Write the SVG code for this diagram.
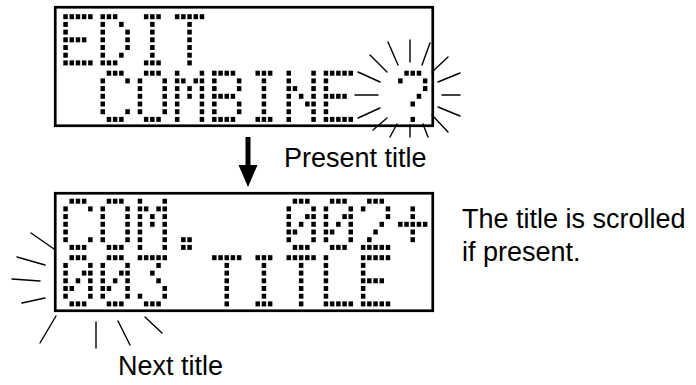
<svg xmlns="http://www.w3.org/2000/svg" xmlns:xlink="http://www.w3.org/1999/xlink" width="696" height="385" viewBox="0 0 696 385">
<style>
.bg{fill:#fff}
.lcd{fill:none;stroke:#000;stroke-width:2.7}
.g rect{fill:#000}
.ray{stroke:#000;stroke-width:1.4;stroke-linecap:round;fill:none}
.lbl{font-family:"Liberation Sans",Arial,sans-serif;font-size:27px;fill:#000}
</style>
<defs>
<g id="gE" class="g"><rect x="0" y="0" width="4.5" height="5"/><rect x="6.2" y="0" width="4.5" height="5"/><rect x="12.4" y="0" width="4.5" height="5"/><rect x="18.6" y="0" width="4.5" height="5"/><rect x="24.8" y="0" width="4.5" height="5"/><rect x="0" y="7.7" width="4.5" height="5"/><rect x="0" y="15.4" width="4.5" height="5"/><rect x="0" y="23.1" width="4.5" height="5"/><rect x="6.2" y="23.1" width="4.5" height="5"/><rect x="12.4" y="23.1" width="4.5" height="5"/><rect x="18.6" y="23.1" width="4.5" height="5"/><rect x="0" y="30.8" width="4.5" height="5"/><rect x="0" y="38.5" width="4.5" height="5"/><rect x="0" y="46.2" width="4.5" height="5"/><rect x="6.2" y="46.2" width="4.5" height="5"/><rect x="12.4" y="46.2" width="4.5" height="5"/><rect x="18.6" y="46.2" width="4.5" height="5"/><rect x="24.8" y="46.2" width="4.5" height="5"/></g>
<g id="gD" class="g"><rect x="0" y="0" width="4.5" height="5"/><rect x="6.2" y="0" width="4.5" height="5"/><rect x="12.4" y="0" width="4.5" height="5"/><rect x="0" y="7.7" width="4.5" height="5"/><rect x="18.6" y="7.7" width="4.5" height="5"/><rect x="0" y="15.4" width="4.5" height="5"/><rect x="24.8" y="15.4" width="4.5" height="5"/><rect x="0" y="23.1" width="4.5" height="5"/><rect x="24.8" y="23.1" width="4.5" height="5"/><rect x="0" y="30.8" width="4.5" height="5"/><rect x="24.8" y="30.8" width="4.5" height="5"/><rect x="0" y="38.5" width="4.5" height="5"/><rect x="18.6" y="38.5" width="4.5" height="5"/><rect x="0" y="46.2" width="4.5" height="5"/><rect x="6.2" y="46.2" width="4.5" height="5"/><rect x="12.4" y="46.2" width="4.5" height="5"/></g>
<g id="gI" class="g"><rect x="6.2" y="0" width="4.5" height="5"/><rect x="12.4" y="0" width="4.5" height="5"/><rect x="18.6" y="0" width="4.5" height="5"/><rect x="12.4" y="7.7" width="4.5" height="5"/><rect x="12.4" y="15.4" width="4.5" height="5"/><rect x="12.4" y="23.1" width="4.5" height="5"/><rect x="12.4" y="30.8" width="4.5" height="5"/><rect x="12.4" y="38.5" width="4.5" height="5"/><rect x="6.2" y="46.2" width="4.5" height="5"/><rect x="12.4" y="46.2" width="4.5" height="5"/><rect x="18.6" y="46.2" width="4.5" height="5"/></g>
<g id="gT" class="g"><rect x="0" y="0" width="4.5" height="5"/><rect x="6.2" y="0" width="4.5" height="5"/><rect x="12.4" y="0" width="4.5" height="5"/><rect x="18.6" y="0" width="4.5" height="5"/><rect x="24.8" y="0" width="4.5" height="5"/><rect x="12.4" y="7.7" width="4.5" height="5"/><rect x="12.4" y="15.4" width="4.5" height="5"/><rect x="12.4" y="23.1" width="4.5" height="5"/><rect x="12.4" y="30.8" width="4.5" height="5"/><rect x="12.4" y="38.5" width="4.5" height="5"/><rect x="12.4" y="46.2" width="4.5" height="5"/></g>
<g id="gC" class="g"><rect x="6.2" y="0" width="4.5" height="5"/><rect x="12.4" y="0" width="4.5" height="5"/><rect x="18.6" y="0" width="4.5" height="5"/><rect x="0" y="7.7" width="4.5" height="5"/><rect x="24.8" y="7.7" width="4.5" height="5"/><rect x="0" y="15.4" width="4.5" height="5"/><rect x="0" y="23.1" width="4.5" height="5"/><rect x="0" y="30.8" width="4.5" height="5"/><rect x="0" y="38.5" width="4.5" height="5"/><rect x="24.8" y="38.5" width="4.5" height="5"/><rect x="6.2" y="46.2" width="4.5" height="5"/><rect x="12.4" y="46.2" width="4.5" height="5"/><rect x="18.6" y="46.2" width="4.5" height="5"/></g>
<g id="gO" class="g"><rect x="6.2" y="0" width="4.5" height="5"/><rect x="12.4" y="0" width="4.5" height="5"/><rect x="18.6" y="0" width="4.5" height="5"/><rect x="0" y="7.7" width="4.5" height="5"/><rect x="24.8" y="7.7" width="4.5" height="5"/><rect x="0" y="15.4" width="4.5" height="5"/><rect x="24.8" y="15.4" width="4.5" height="5"/><rect x="0" y="23.1" width="4.5" height="5"/><rect x="24.8" y="23.1" width="4.5" height="5"/><rect x="0" y="30.8" width="4.5" height="5"/><rect x="24.8" y="30.8" width="4.5" height="5"/><rect x="0" y="38.5" width="4.5" height="5"/><rect x="24.8" y="38.5" width="4.5" height="5"/><rect x="6.2" y="46.2" width="4.5" height="5"/><rect x="12.4" y="46.2" width="4.5" height="5"/><rect x="18.6" y="46.2" width="4.5" height="5"/></g>
<g id="gM" class="g"><rect x="0" y="0" width="4.5" height="5"/><rect x="24.8" y="0" width="4.5" height="5"/><rect x="0" y="7.7" width="4.5" height="5"/><rect x="6.2" y="7.7" width="4.5" height="5"/><rect x="18.6" y="7.7" width="4.5" height="5"/><rect x="24.8" y="7.7" width="4.5" height="5"/><rect x="0" y="15.4" width="4.5" height="5"/><rect x="12.4" y="15.4" width="4.5" height="5"/><rect x="24.8" y="15.4" width="4.5" height="5"/><rect x="0" y="23.1" width="4.5" height="5"/><rect x="12.4" y="23.1" width="4.5" height="5"/><rect x="24.8" y="23.1" width="4.5" height="5"/><rect x="0" y="30.8" width="4.5" height="5"/><rect x="24.8" y="30.8" width="4.5" height="5"/><rect x="0" y="38.5" width="4.5" height="5"/><rect x="24.8" y="38.5" width="4.5" height="5"/><rect x="0" y="46.2" width="4.5" height="5"/><rect x="24.8" y="46.2" width="4.5" height="5"/></g>
<g id="gB" class="g"><rect x="0" y="0" width="4.5" height="5"/><rect x="6.2" y="0" width="4.5" height="5"/><rect x="12.4" y="0" width="4.5" height="5"/><rect x="18.6" y="0" width="4.5" height="5"/><rect x="0" y="7.7" width="4.5" height="5"/><rect x="24.8" y="7.7" width="4.5" height="5"/><rect x="0" y="15.4" width="4.5" height="5"/><rect x="24.8" y="15.4" width="4.5" height="5"/><rect x="0" y="23.1" width="4.5" height="5"/><rect x="6.2" y="23.1" width="4.5" height="5"/><rect x="12.4" y="23.1" width="4.5" height="5"/><rect x="18.6" y="23.1" width="4.5" height="5"/><rect x="0" y="30.8" width="4.5" height="5"/><rect x="24.8" y="30.8" width="4.5" height="5"/><rect x="0" y="38.5" width="4.5" height="5"/><rect x="24.8" y="38.5" width="4.5" height="5"/><rect x="0" y="46.2" width="4.5" height="5"/><rect x="6.2" y="46.2" width="4.5" height="5"/><rect x="12.4" y="46.2" width="4.5" height="5"/><rect x="18.6" y="46.2" width="4.5" height="5"/></g>
<g id="gN" class="g"><rect x="0" y="0" width="4.5" height="5"/><rect x="24.8" y="0" width="4.5" height="5"/><rect x="0" y="7.7" width="4.5" height="5"/><rect x="24.8" y="7.7" width="4.5" height="5"/><rect x="0" y="15.4" width="4.5" height="5"/><rect x="6.2" y="15.4" width="4.5" height="5"/><rect x="24.8" y="15.4" width="4.5" height="5"/><rect x="0" y="23.1" width="4.5" height="5"/><rect x="12.4" y="23.1" width="4.5" height="5"/><rect x="24.8" y="23.1" width="4.5" height="5"/><rect x="0" y="30.8" width="4.5" height="5"/><rect x="18.6" y="30.8" width="4.5" height="5"/><rect x="24.8" y="30.8" width="4.5" height="5"/><rect x="0" y="38.5" width="4.5" height="5"/><rect x="24.8" y="38.5" width="4.5" height="5"/><rect x="0" y="46.2" width="4.5" height="5"/><rect x="24.8" y="46.2" width="4.5" height="5"/></g>
<g id="gQ" class="g"><rect x="6.2" y="0" width="4.5" height="5"/><rect x="12.4" y="0" width="4.5" height="5"/><rect x="18.6" y="0" width="4.5" height="5"/><rect x="0" y="7.7" width="4.5" height="5"/><rect x="24.8" y="7.7" width="4.5" height="5"/><rect x="24.8" y="15.4" width="4.5" height="5"/><rect x="18.6" y="23.1" width="4.5" height="5"/><rect x="12.4" y="30.8" width="4.5" height="5"/><rect x="12.4" y="46.2" width="4.5" height="5"/></g>
<g id="gDot" class="g"><rect x="6.2" y="38.5" width="4.5" height="5"/><rect x="12.4" y="38.5" width="4.5" height="5"/><rect x="6.2" y="46.2" width="4.5" height="5"/><rect x="12.4" y="46.2" width="4.5" height="5"/></g>
<g id="g0" class="g"><rect x="6.2" y="0" width="4.5" height="5"/><rect x="12.4" y="0" width="4.5" height="5"/><rect x="18.6" y="0" width="4.5" height="5"/><rect x="0" y="7.7" width="4.5" height="5"/><rect x="24.8" y="7.7" width="4.5" height="5"/><rect x="0" y="15.4" width="4.5" height="5"/><rect x="18.6" y="15.4" width="4.5" height="5"/><rect x="24.8" y="15.4" width="4.5" height="5"/><rect x="0" y="23.1" width="4.5" height="5"/><rect x="12.4" y="23.1" width="4.5" height="5"/><rect x="24.8" y="23.1" width="4.5" height="5"/><rect x="0" y="30.8" width="4.5" height="5"/><rect x="6.2" y="30.8" width="4.5" height="5"/><rect x="24.8" y="30.8" width="4.5" height="5"/><rect x="0" y="38.5" width="4.5" height="5"/><rect x="24.8" y="38.5" width="4.5" height="5"/><rect x="6.2" y="46.2" width="4.5" height="5"/><rect x="12.4" y="46.2" width="4.5" height="5"/><rect x="18.6" y="46.2" width="4.5" height="5"/></g>
<g id="g2" class="g"><rect x="6.2" y="0" width="4.5" height="5"/><rect x="12.4" y="0" width="4.5" height="5"/><rect x="18.6" y="0" width="4.5" height="5"/><rect x="0" y="7.7" width="4.5" height="5"/><rect x="24.8" y="7.7" width="4.5" height="5"/><rect x="24.8" y="15.4" width="4.5" height="5"/><rect x="18.6" y="23.1" width="4.5" height="5"/><rect x="12.4" y="30.8" width="4.5" height="5"/><rect x="6.2" y="38.5" width="4.5" height="5"/><rect x="0" y="46.2" width="4.5" height="5"/><rect x="6.2" y="46.2" width="4.5" height="5"/><rect x="12.4" y="46.2" width="4.5" height="5"/><rect x="18.6" y="46.2" width="4.5" height="5"/><rect x="24.8" y="46.2" width="4.5" height="5"/></g>
<g id="gPlus" class="g"><rect x="12.4" y="7.7" width="4.5" height="5"/><rect x="12.4" y="15.4" width="4.5" height="5"/><rect x="0" y="23.1" width="4.5" height="5"/><rect x="6.2" y="23.1" width="4.5" height="5"/><rect x="12.4" y="23.1" width="4.5" height="5"/><rect x="18.6" y="23.1" width="4.5" height="5"/><rect x="24.8" y="23.1" width="4.5" height="5"/><rect x="12.4" y="30.8" width="4.5" height="5"/><rect x="12.4" y="38.5" width="4.5" height="5"/></g>
<g id="g3" class="g"><rect x="0" y="0" width="4.5" height="5"/><rect x="6.2" y="0" width="4.5" height="5"/><rect x="12.4" y="0" width="4.5" height="5"/><rect x="18.6" y="0" width="4.5" height="5"/><rect x="24.8" y="0" width="4.5" height="5"/><rect x="18.6" y="7.7" width="4.5" height="5"/><rect x="12.4" y="15.4" width="4.5" height="5"/><rect x="18.6" y="23.1" width="4.5" height="5"/><rect x="24.8" y="30.8" width="4.5" height="5"/><rect x="0" y="38.5" width="4.5" height="5"/><rect x="24.8" y="38.5" width="4.5" height="5"/><rect x="6.2" y="46.2" width="4.5" height="5"/><rect x="12.4" y="46.2" width="4.5" height="5"/><rect x="18.6" y="46.2" width="4.5" height="5"/></g>
<g id="gL" class="g"><rect x="0" y="0" width="4.5" height="5"/><rect x="0" y="7.7" width="4.5" height="5"/><rect x="0" y="15.4" width="4.5" height="5"/><rect x="0" y="23.1" width="4.5" height="5"/><rect x="0" y="30.8" width="4.5" height="5"/><rect x="0" y="38.5" width="4.5" height="5"/><rect x="0" y="46.2" width="4.5" height="5"/><rect x="6.2" y="46.2" width="4.5" height="5"/><rect x="12.4" y="46.2" width="4.5" height="5"/><rect x="18.6" y="46.2" width="4.5" height="5"/><rect x="24.8" y="46.2" width="4.5" height="5"/></g>
</defs>
<rect class="bg" x="0" y="0" width="696" height="385"/>

<g id="display-top">
<title>EDIT / COMBINE ?</title>
<rect class="lcd" x="55.25" y="7.25" width="377.5" height="118.5"/>
<g id="top-line1" aria-label="EDIT">
<use xlink:href="#gE" x="63.3" y="14.2"/>
<use xlink:href="#gD" x="100.5" y="14.2"/>
<use xlink:href="#gI" x="137.7" y="14.2"/>
<use xlink:href="#gT" x="174.9" y="14.2"/>
</g>
<g id="top-line2" aria-label="COMBINE ?">
<use xlink:href="#gC" x="100.5" y="70.7"/>
<use xlink:href="#gO" x="137.7" y="70.7"/>
<use xlink:href="#gM" x="174.9" y="70.7"/>
<use xlink:href="#gB" x="212.1" y="70.7"/>
<use xlink:href="#gI" x="249.3" y="70.7"/>
<use xlink:href="#gN" x="286.5" y="70.7"/>
<use xlink:href="#gE" x="323.7" y="70.7"/>
<use xlink:href="#gQ" x="398.1" y="70.7"/>
</g>
</g>

<g id="display-bottom">
<title>COM. 002+ / 003 TITLE</title>
<rect class="lcd" x="55.25" y="193.25" width="377.5" height="117.5"/>
<g id="bottom-line1" aria-label="COM.    002+">
<use xlink:href="#gC" x="63.3" y="198.7"/>
<use xlink:href="#gO" x="100.5" y="198.7"/>
<use xlink:href="#gM" x="137.7" y="198.7"/>
<use xlink:href="#gDot" x="174.9" y="198.7"/>
<use xlink:href="#g0" x="286.5" y="198.7"/>
<use xlink:href="#g0" x="323.7" y="198.7"/>
<use xlink:href="#g2" x="360.9" y="198.7"/>
<use xlink:href="#gPlus" x="398.1" y="198.7"/>
</g>
<g id="bottom-line2" aria-label="003 TITLE">
<use xlink:href="#g0" x="63.3" y="255.2"/>
<use xlink:href="#g0" x="100.5" y="255.2"/>
<use xlink:href="#g3" x="137.7" y="255.2"/>
<use xlink:href="#gT" x="212.1" y="255.2"/>
<use xlink:href="#gI" x="249.3" y="255.2"/>
<use xlink:href="#gT" x="286.5" y="255.2"/>
<use xlink:href="#gL" x="323.7" y="255.2"/>
<use xlink:href="#gE" x="360.9" y="255.2"/>
</g>
</g>

<g id="blink-top">
<line class="ray" x1="410" y1="40" x2="410" y2="62"/>
<line class="ray" x1="388" y1="42" x2="398" y2="65"/>
<line class="ray" x1="430" y1="43" x2="422" y2="65"/>
<line class="ray" x1="370" y1="55" x2="387" y2="72"/>
<line class="ray" x1="448" y1="57" x2="432" y2="72"/>
<line class="ray" x1="358" y1="72" x2="380" y2="82"/>
<line class="ray" x1="438" y1="82" x2="460" y2="73"/>
<line class="ray" x1="355" y1="95" x2="378" y2="95"/>
<line class="ray" x1="442" y1="95" x2="460" y2="95"/>
<line class="ray" x1="358" y1="118" x2="380" y2="108"/>
<line class="ray" x1="438" y1="107" x2="460" y2="116"/>
<line class="ray" x1="373" y1="130" x2="387" y2="118"/>
<line class="ray" x1="390" y1="137" x2="397" y2="124"/>
<line class="ray" x1="410" y1="125" x2="410" y2="137"/>
<line class="ray" x1="423" y1="124" x2="428" y2="137"/>
<line class="ray" x1="432" y1="115" x2="448" y2="132"/>
</g>

<g id="blink-bottom">
<line class="ray" x1="31" y1="233" x2="54" y2="249"/>
<line class="ray" x1="17" y1="257" x2="45" y2="265"/>
<line class="ray" x1="12" y1="279" x2="40" y2="281"/>
<line class="ray" x1="22" y1="303" x2="45" y2="298"/>
<line class="ray" x1="40" y1="343" x2="56" y2="316"/>
<line class="ray" x1="96" y1="322" x2="96" y2="348"/>
<line class="ray" x1="118" y1="321" x2="130" y2="345"/>
<line class="ray" x1="145" y1="317" x2="162" y2="333"/>
</g>

<g id="connectors">
<rect x="245.5" y="137" width="5" height="30"/>
<polygon points="238.5,165 257.5,165 248,187"/>
</g>

<g id="labels">
<text class="lbl" x="284" y="167">Present title</text>
<text class="lbl" x="462" y="228">The title is scrolled</text>
<text class="lbl" x="462" y="261">if present.</text>
<text class="lbl" x="118" y="375">Next title</text>
</g>
</svg>
